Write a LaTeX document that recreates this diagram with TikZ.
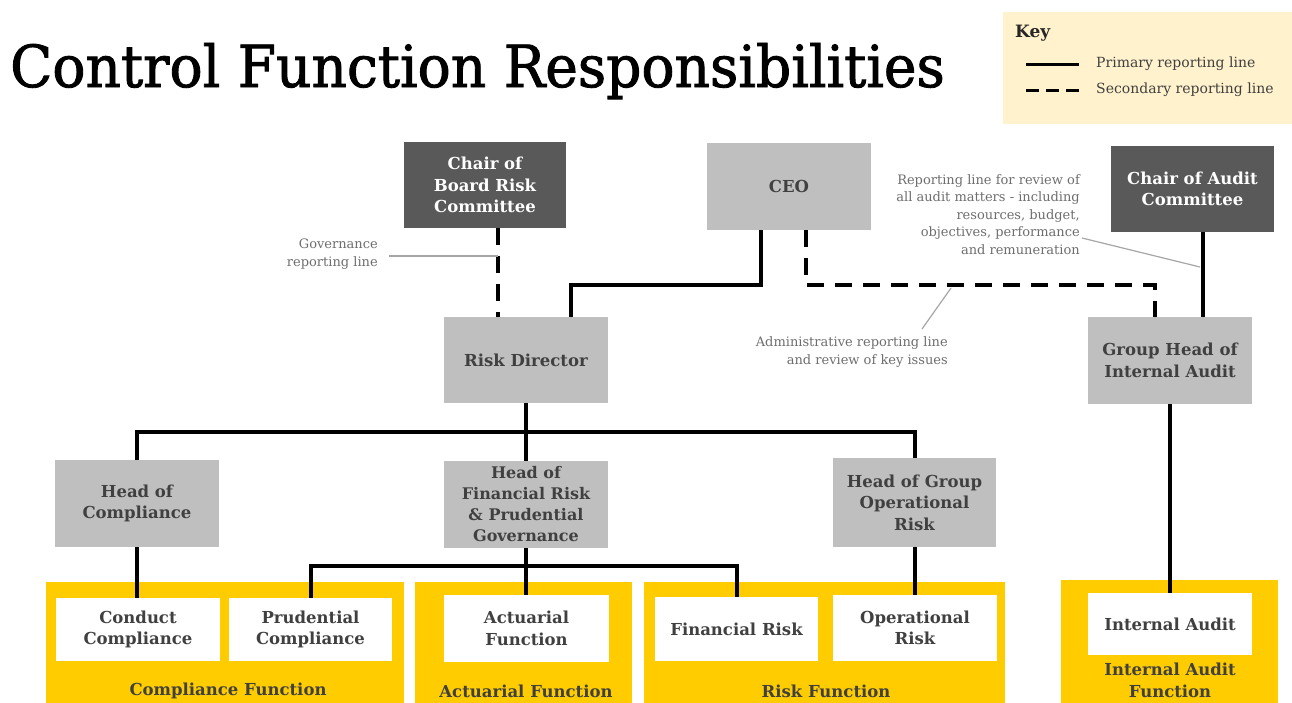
\documentclass[tikz,border=0pt]{standalone}
\usepackage{fontspec}
\setmainfont{DejaVu Serif}
\newfontfamily\titlefont[FakeStretch=0.95, FakeBold=1.5]{DejaVu Serif}
\definecolor{darkbox}{HTML}{595959}
\definecolor{lightbox}{HTML}{BFBFBF}
\definecolor{boxtext}{HTML}{404040}
\definecolor{fnyellow}{HTML}{FFCC00}
\definecolor{keybg}{HTML}{FFF2CC}
\definecolor{notegray}{HTML}{6E6E6E}
\definecolor{pointergray}{HTML}{A6A6A6}

\tikzset{
  orgbox/.style={rectangle, inner sep=0pt, align=center,
    font=\bfseries\fontsize{16.5}{21.5}\selectfont},
  exec/.style={orgbox, fill=darkbox, text=white},
  mgr/.style={orgbox, fill=lightbox, text=boxtext},
  unit/.style={orgbox, fill=white, text=boxtext},
  func/.style={rectangle, inner sep=0pt, fill=fnyellow},
  funclabel/.style={font=\bfseries\fontsize{16.5}{22}\selectfont, text=boxtext, align=center, inner sep=0pt},
  primary/.style={line width=4pt, draw=black},
  secondary/.style={line width=4pt, draw=black, dash pattern=on 17pt off 11pt},
  note/.style={font=\fontsize{13}{17.5}\selectfont, text=notegray, align=right, inner sep=0pt},
  pointer/.style={draw=pointergray, line width=1.2pt},
  keytext/.style={font=\fontsize{14}{16}\selectfont, text=boxtext, anchor=west, inner sep=0pt},
}

% box from its pixel corners: name, style, x1, y1, x2, y2, text
\newcommand\pxbox[7]{%
  \node[#2, minimum width={(#5-#3)*1pt}, minimum height={(#6-#4)*1pt}]
    (#1) at ({(#3+#5)/2},{(#4+#6)/2}) {#7};}

\begin{document}
\begin{tikzpicture}[x=1pt,y=-1pt]
\useasboundingbox (0,0) rectangle (1292,702);
\clip (0,0) rectangle (1292,702);
\fill[white] (0,0) rectangle (1292,702);

% title
\node[anchor=base west, inner sep=0pt, font=\titlefont\fontsize{58}{60}\selectfont] (title) at (10,87)
  {Control Function Responsibilities};

% key
\pxbox{key}{rectangle, inner sep=0pt, fill=keybg}{1003}{12}{1292}{124}{}
\node[anchor=west, inner sep=0pt, font=\bfseries\fontsize{17}{20}\selectfont, text=black!85] (keyt) at (1015,33) {Key};
\coordinate (kpa) at (1026,64);
\coordinate (kpb) at (1079,64);
\coordinate (ksa) at (1026,90);
\coordinate (ksb) at (1079,90);
\draw[line width=3pt] (kpa) -- (kpb);
\draw[line width=3pt, dash pattern=on 13pt off 7pt] (ksa) -- (ksb);
\node[keytext] (kpt) at (1096,64) {Primary reporting line};
\node[keytext] (kst) at (1096,90) {Secondary reporting line};

% yellow function areas
\pxbox{fcomp}{func}{46}{582}{404}{712}{}
\pxbox{fact}{func}{415}{582}{632}{712}{}
\pxbox{frisk}{func}{644}{582}{1005}{712}{}
\pxbox{fia}{func}{1061}{580}{1278}{712}{}

% board and executive level
\pxbox{crc}{exec}{404}{142}{566}{228}{Chair of\\Board Risk\\Committee}
\pxbox{ceo}{mgr}{707}{143}{871}{230}{CEO}
\pxbox{cac}{exec}{1111}{146}{1274}{232}{Chair of Audit\\Committee}

% directors
\pxbox{rd}{mgr}{444}{317}{608}{403}{Risk Director}
\pxbox{ghia}{mgr}{1088}{317}{1252}{404}{Group Head of\\Internal Audit}

% heads
\pxbox{hoc}{mgr}{55}{460}{219}{547}{Head of\\Compliance}
\pxbox{hfr}{mgr, font=\bfseries\fontsize{16}{21}\selectfont}{444}{461}{608}{548}{Head of\\Financial Risk\\\& Prudential\\Governance}
\pxbox{hgor}{mgr}{833}{458}{996}{547}{Head of Group\\Operational\\Risk}

% units
\pxbox{cc}{unit}{56}{598}{220}{661}{Conduct\\Compliance}
\pxbox{pc}{unit}{229}{598}{392}{661}{Prudential\\Compliance}
\pxbox{af}{unit}{444}{595}{609}{662}{Actuarial\\Function}
\pxbox{fr}{unit}{655}{597}{818}{661}{Financial Risk}
\pxbox{opr}{unit}{833}{595}{997}{661}{Operational\\Risk}
\pxbox{ia}{unit}{1088}{593}{1252}{655}{Internal Audit}

% function labels
\node[funclabel] (lcomp) at (228,691) {Compliance Function};
\node[funclabel] (lact) at (526,691) {Actuarial Function};
\node[funclabel] (lrisk) at (826,691) {Risk Function};
\node[funclabel] (lia) at (1170,680) {Internal Audit\\Function};

% reporting lines
\draw[secondary] ([xshift=13pt]crc.south) -- ([xshift=13pt]crc.south |- rd.north);
\draw[primary] ([xshift=-28pt]ceo.south) -- ++(0,55) -| ([xshift=45pt]rd.north);
\draw[secondary] ([xshift=17pt]ceo.south) -- ++(0,55) -| ([xshift=-15pt]ghia.north);
\draw[primary] ([xshift=10pt]cac.south) -- ([xshift=10pt]cac.south |- ghia.north);
\draw[primary] (ghia.south) -- (ia.north);

\draw[primary] (rd.south) -- ++(0,29) coordinate (rdj);
\draw[primary] (hoc.north) |- (rdj) -| (hgor.north);
\draw[primary] (rdj) -- (hfr.north);

\draw[primary] (hoc.south) -- (hoc.south |- cc.north);
\draw[primary] (hfr.south) -- (hfr.south |- af.north);
\path (hfr.south) ++(0,18) coordinate (hfrj);
\draw[primary] (pc.north) |- (hfrj) -| (fr.north);
\draw[primary] (hgor.south) -- (hgor.south |- opr.north);

% annotations
\node[note, anchor=east] (gnote) at (378,254) {Governance\\reporting line};
\draw[pointer] ([xshift=11pt,yshift=-2pt]gnote.east) -- ([xshift=13pt,yshift=-2pt]crc.south |- gnote.east);

\node[note, anchor=east] (anote) at (948,352) {Administrative reporting line\\and review of key issues};
\coordinate (ap1) at (922,329);
\coordinate (ap2) at (951,288);
\draw[pointer] (ap1) -- (ap2);

\node[note, anchor=east] (aunote) at (1080,214.5) {Reporting line for review of\\all audit matters - including\\resources, budget,\\objectives, performance\\and remuneration};
\coordinate (up1) at (1082,238);
\coordinate (up2) at (1200,267);
\draw[pointer] (up1) -- (up2);
\end{tikzpicture}
\end{document}
